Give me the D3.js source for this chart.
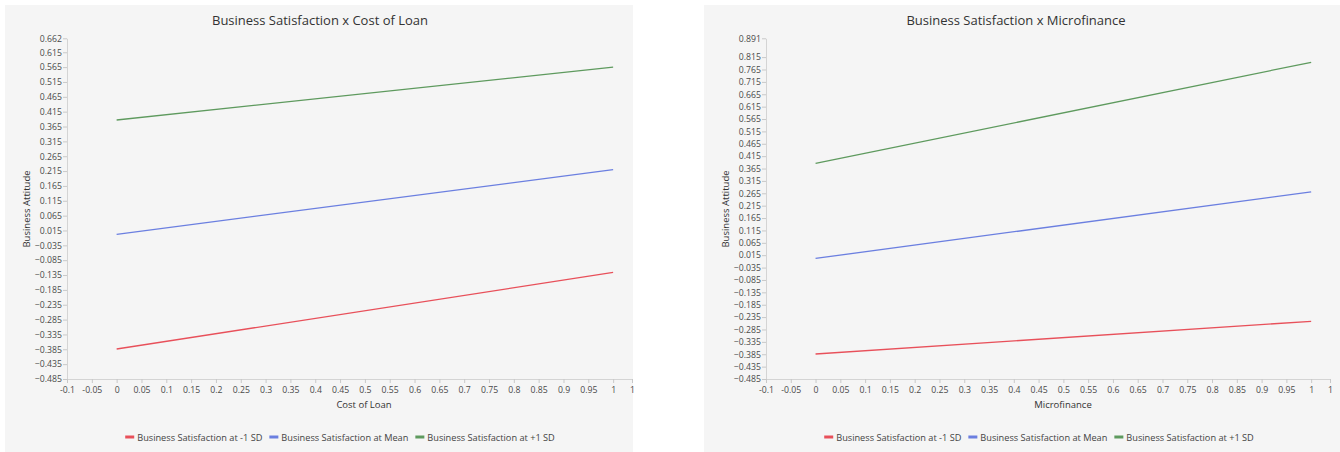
<!DOCTYPE html>
<html>
<head>
<meta charset="utf-8">
<script src="https://cdn.jsdelivr.net/npm/d3@7"></script>
<style>
  body { margin: 0; background: #ffffff; }
  svg { display: block; font-family: "Open Sans", "Noto Sans", sans-serif; }
</style>
</head>
<body>
<svg id="chart" width="1340" height="452"></svg>
<script>
// series names and colours
const seriesNames = ["Business Satisfaction at -1 SD", "Business Satisfaction at Mean", "Business Satisfaction at +1 SD"];
const seriesColors = ["#e8505a", "#6b7fe0", "#5e9a5e"];

// x values shared by both charts
const xValues = [0, 1];
const xTicks = [-0.1, -0.05, 0, 0.05, 0.1, 0.15, 0.2, 0.25, 0.3, 0.35, 0.4, 0.45, 0.5, 0.55, 0.6, 0.65, 0.7, 0.75, 0.8, 0.85, 0.9, 0.95, 1, 1.038];

// left chart: Cost of Loan
const loanLow = [-0.384, -0.126];
const loanMean = [0.002, 0.220];
const loanHigh = [0.387, 0.565];
const loanYTicks = [0.662, 0.615, 0.565, 0.515, 0.465, 0.415, 0.365, 0.315, 0.265, 0.215, 0.165, 0.115, 0.065, 0.015,
  -0.035, -0.085, -0.135, -0.185, -0.235, -0.285, -0.335, -0.385, -0.435, -0.485];

// right chart: Microfinance
const microLow = [-0.384, -0.252];
const microMean = [0.002, 0.271];
const microHigh = [0.386, 0.794];
const microYTicks = [0.891, 0.815, 0.765, 0.715, 0.665, 0.615, 0.565, 0.515, 0.465, 0.415, 0.365, 0.315, 0.265, 0.215,
  0.165, 0.115, 0.065, 0.015, -0.035, -0.085, -0.135, -0.185, -0.235, -0.285, -0.335, -0.385, -0.435, -0.485];

const svg = d3.select("#chart");

function drawPanel(p) {
  const g = svg.append("g");

  // panel background
  g.append("rect")
    .attr("x", p.left).attr("y", 5)
    .attr("width", p.width).attr("height", 447)
    .attr("fill", "#f5f5f5");

  const x = d3.scaleLinear().domain([-0.1, 1.038]).range([p.plotLeft, p.plotRight]);
  const y = d3.scaleLinear().domain([p.yTicks[p.yTicks.length - 1], p.yTicks[0]]).range([379, 38.3]);

  // y axis
  const yAxis = g.append("g")
    .attr("transform", `translate(${p.plotLeft},0)`)
    .call(d3.axisLeft(y).tickValues(p.yTicks).tickSize(4).tickSizeOuter(0).tickFormat(d => d3.format(".3f")(d)));
  // x axis
  const xAxis = g.append("g")
    .attr("transform", "translate(0,379)")
    .call(d3.axisBottom(x).tickValues(xTicks).tickSize(4).tickSizeOuter(0).tickFormat(d => d > 1 ? "1" : String(+d.toFixed(2))));

  [yAxis, xAxis].forEach(a => {
    a.select(".domain").attr("stroke", "#d4d4d4");
    a.selectAll(".tick line").attr("stroke", "#c8c8c8");
    a.selectAll(".tick text")
      .attr("fill", "#4a4a4a")
      .style("font-size", "8.7px")
      .style("font-family", "'Open Sans', sans-serif");
  });
  yAxis.selectAll(".tick text").attr("x", -5);
  xAxis.selectAll(".tick text").attr("y", 8);

  // lines
  const line = d3.line().x((d, i) => x(xValues[i])).y(d => y(d));
  p.series.forEach((s, i) => {
    g.append("path")
      .datum(s)
      .attr("d", line)
      .attr("fill", "none")
      .attr("stroke", seriesColors[i])
      .attr("stroke-width", 1.3);
  });

  // title
  g.append("text")
    .attr("x", p.titleX).attr("y", 25)
    .attr("text-anchor", "middle")
    .style("font-size", "13px")
    .attr("fill", "#333333")
    .text(p.title);

  // y label
  g.append("text")
    .attr("transform", `translate(${p.left + 25},209) rotate(-90)`)
    .attr("text-anchor", "middle")
    .style("font-size", "9.5px")
    .attr("fill", "#333333")
    .text("Business Attitude");

  // x label
  g.append("text")
    .attr("x", p.xLabelX).attr("y", 408)
    .attr("text-anchor", "middle")
    .style("font-size", "9.5px")
    .attr("fill", "#333333")
    .text(p.xLabel);

  // legend
  const leg = g.append("g");
  let cx = 0;
  seriesNames.forEach((name, i) => {
    leg.append("line")
      .attr("x1", cx).attr("x2", cx + 9)
      .attr("y1", 437).attr("y2", 437)
      .attr("stroke", seriesColors[i])
      .attr("stroke-width", 3);
    const t = leg.append("text")
      .attr("x", cx + 12).attr("y", 440.5)
      .style("font-size", "9.2px")
      .attr("fill", "#444444")
      .text(name);
    cx += 12 + t.node().getComputedTextLength() + 7;
  });
  const legW = cx - 7;
  leg.attr("transform", `translate(${p.legendX - legW / 2},0)`);
}

drawPanel({
  left: 5, width: 628, plotLeft: 67, plotRight: 632,
  yTicks: loanYTicks, series: [loanLow, loanMean, loanHigh],
  title: "Business Satisfaction x Cost of Loan", titleX: 320,
  xLabel: "Cost of Loan", xLabelX: 364, legendX: 340
});

drawPanel({
  left: 704, width: 636, plotLeft: 766, plotRight: 1330,
  yTicks: microYTicks, series: [microLow, microMean, microHigh],
  title: "Business Satisfaction x Microfinance", titleX: 1016,
  xLabel: "Microfinance", xLabelX: 1063, legendX: 1039
});
</script>
</body>
</html>
